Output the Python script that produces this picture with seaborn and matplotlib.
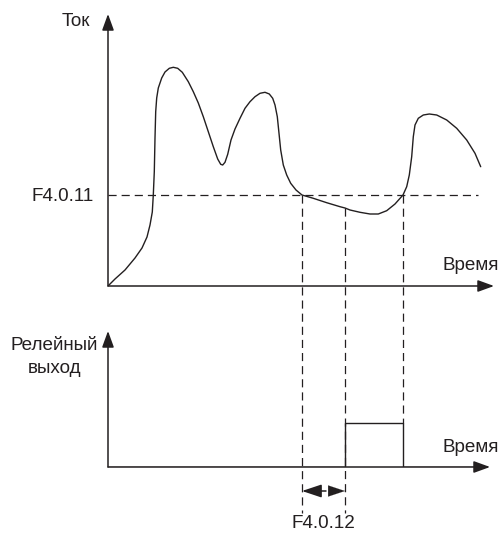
import matplotlib
matplotlib.use("Agg")
import matplotlib.pyplot as plt
import seaborn as sns
import pandas as pd

sns.set_style("white")
plt.rcParams["font.family"] = ["Liberation Sans", "DejaVu Sans"]

# Current waveform (time, current) in drawing units
time_pts = [0, 7, 17, 27, 34, 39, 42, 44.3, 45.3, 46.3, 47, 47.7, 48.7, 50.3, 53.7,
            57, 61.3, 65.3, 69.7, 74.3, 80.3, 85.3, 90.3, 95.3, 100.3, 105.3,
            109.7, 112.7, 114.7, 117, 119.7, 123, 127, 132, 137, 142, 147, 152,
            157, 161.3, 164.7, 167, 169.3, 171, 172.7, 175.3, 178.7, 182.7, 188,
            194, 205.3, 218.7, 232, 237, 242, 252, 262, 270.3, 278.7, 287, 295,
            298.7, 301.3, 303.7, 305.3, 307, 310.3, 315.3, 321.3, 328.7, 338.7,
            348.7, 358.7, 367, 372.7]
current_pts = [0, 7, 16, 28, 38, 49, 61, 74, 91, 114.3, 148, 174.3, 188, 198, 208,
               214, 217.7, 218.7, 217.7, 213.7, 204.3, 194.3, 183, 169.3, 154.3,
               139.3, 127, 121.7, 121, 123.7, 131.7, 146, 157, 167.7, 177.7, 184.3,
               189.3, 192.7, 193.7, 192, 187.7, 181, 169.3, 152.7, 136, 121, 111,
               102.7, 96, 91, 87.7, 83.3, 79.3, 78, 76, 73.7, 72, 72, 75.3, 82, 91,
               99.3, 111, 129.3, 149.3, 161, 167.7, 171, 172, 171, 166, 157.7, 146,
               132.7, 119.3]

threshold = 91          # F4.0.11 current level
t_below = 194           # current drops below threshold
t_relay_on = 237        # relay switches on after F4.0.12 delay
t_relay_off = 295       # current rises back above threshold
current_at_on = 78

# Relay output states
relay_t = [0, t_relay_on, t_relay_off, 380]
relay_state = [0, 1, 0, 0]

labels = {
    "current": "Ток",
    "time": "Время",
    "relay1": "Релейный",
    "relay2": "выход",
    "thr": "F4.0.11",
    "delay": "F4.0.12",
}

W, H = 503, 534
fig = plt.figure(figsize=(W / 100, H / 100), dpi=100)
ax1 = fig.add_axes([108 / W, (H - 286) / H, (W - 108) / W, 286 / H])
ax2 = fig.add_axes([108 / W, (H - 467) / H, (W - 108) / W, 167 / H])
ax1.set_xlim(0, W - 108)
ax1.set_ylim(0, 286)
ax2.set_xlim(0, W - 108)
ax2.set_ylim(0, 167 / 44)
for ax in (ax1, ax2):
    ax.set_axis_off()

black = "#231f20"
fs = 13.6
txt = dict(fontsize=fs, color=black, va="baseline")

def axis_arrow(ax, start, end):
    ax.annotate("", xy=end, xytext=start, xycoords="data",
                arrowprops=dict(arrowstyle="-|>,head_length=0.55,head_width=0.2",
                                mutation_scale=18, lw=1.1, color=black,
                                shrinkA=0, shrinkB=0),
                annotation_clip=False)

# Top chart: current vs time
curve = pd.DataFrame({"t": time_pts, "i": current_pts})
sns.lineplot(data=curve, x="t", y="i", ax=ax1, color=black, lw=1.0,
             estimator=None, sort=False)
axis_arrow(ax1, (0, 0), (0, 272))
axis_arrow(ax1, (0, 0), (386, 0))
dash = (6.5, 4)
ax1.plot([0, 370], [threshold, threshold], color=black, lw=0.9,
         dashes=dash, clip_on=False)
ax1.plot([t_below, t_below], [threshold, -227], color=black, lw=0.9,
         dashes=dash, clip_on=False)
ax1.plot([t_relay_on, t_relay_on], [current_at_on, -227], color=black, lw=0.9,
         dashes=dash, clip_on=False)
ax1.plot([t_relay_off, t_relay_off], [threshold, -137], color=black, lw=0.9,
         dashes=dash, clip_on=False)

ax1.text(-18, 260, labels["current"], ha="right", **txt)
ax1.text(-14, 85, labels["thr"], ha="right", **txt)
ax1.text(391, 16, labels["time"], ha="right", **txt)

# Bottom chart: relay output vs time
relay = pd.DataFrame({"t": relay_t, "s": relay_state})
sns.lineplot(data=relay, x="t", y="s", ax=ax2, color=black, lw=1.0,
             estimator=None, sort=False, drawstyle="steps-post")
axis_arrow(ax2, (0, 0), (0, 136 / 44))
axis_arrow(ax2, (0, 0), (382, 0))
ax2.text(-53.5, 117 / 44, labels["relay1"], ha="center", **txt)
ax2.text(-53.5, 94 / 44, labels["relay2"], ha="center", **txt)
ax2.text(391, 15 / 44, labels["time"], ha="right", **txt)

# F4.0.12 delay marker
yd = -24 / 44
ax2.annotate("", xy=(t_below, yd), xytext=(218, yd),
             arrowprops=dict(arrowstyle="-|>,head_length=0.75,head_width=0.25",
                             mutation_scale=16, lw=1.1, color=black,
                             shrinkA=0, shrinkB=0), annotation_clip=False)
ax2.annotate("", xy=(t_relay_on, yd), xytext=(222, yd),
             arrowprops=dict(arrowstyle="-|>,head_length=0.75,head_width=0.25",
                             mutation_scale=16, lw=0.1, color=black,
                             shrinkA=0, shrinkB=0), annotation_clip=False)
ax2.text((t_below + t_relay_on) / 2, -61 / 44, labels["delay"], ha="center", **txt)

fig.savefig("out.png", dpi=100)
